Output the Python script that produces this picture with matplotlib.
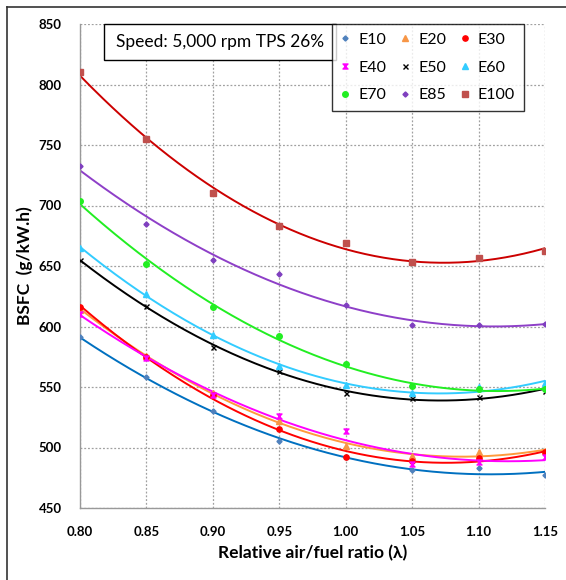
import numpy as np
import matplotlib
matplotlib.use("Agg")
from matplotlib import pyplot as plt
from matplotlib.path import Path
from matplotlib.patches import Rectangle
from matplotlib.lines import Line2D

plt.rcParams['font.family'] = ['Lato', 'DejaVu Sans']

# lambda (relative air/fuel ratio)
lam = [0.80, 0.85, 0.90, 0.95, 1.00, 1.05, 1.10, 1.15]

# BSFC (g/kW.h) per blend
e10 = [591, 558, 530, 505, 492, 481, 483, 477]
e20 = [614, 576, 545, 522, 501, 493, 496, 497]
e30 = [616, 575, 543, 515, 492, 489, 491, 496]
e40 = [610, 574, 543, 526, 514, 486, 488, 492]
e50 = [655, 617, 583, 563, 545, 541, 542, 547]
e60 = [665, 627, 593, 567, 552, 545, 550, 553]
e70 = [704, 652, 616, 592, 569, 551, 548, 548]
e85 = [733, 685, 655, 643, 618, 601, 601, 602]
e100 = [810, 755, 710, 683, 669, 653, 657, 662]

names = ["E10", "E20", "E30", "E40", "E50", "E60", "E70", "E85", "E100"]
series = [e10, e20, e30, e40, e50, e60, e70, e85, e100]

hourglass = Path([(-1, 1), (1, 1), (-1, -1), (1, -1), (-1, 1)],
                 [Path.MOVETO, Path.LINETO, Path.LINETO, Path.LINETO, Path.CLOSEPOLY])

# marker, marker colour, marker size, trendline colour
styles = [
    ("D", "#4F81BD", 2.6, "#0070C0"),
    ("^", "#F79646", 3.8, "#FF9A3C"),
    ("o", "#FF0000", 3.8, "#FF0000"),
    (hourglass, "#FF00FF", 3.6, "#FF00FF"),
    ("x", "#000000", 3.6, "#000000"),
    ("^", "#33CCFF", 3.8, "#33CCFF"),
    ("o", "#22EE22", 4.0, "#22EE22"),
    ("D", "#7F3FBF", 2.6, "#8E3FC8"),
    ("s", "#C0504D", 4.6, "#CC0000"),
]

fig = plt.figure(figsize=(5.66, 5.80), dpi=100)
ax = fig.add_axes([80/566, 1-508/580, 465/566, 484/580])

xs = np.linspace(lam[0], lam[-1], 200)
handles = []
for name, vals, (mk, mc, ms, lc) in zip(names, series, styles):
    # excel style 2nd order polynomial trendline
    p = np.polyfit(lam, vals, 2)
    ax.plot(xs, np.polyval(p, xs), color=lc, lw=1.4, zorder=2)
    if mk == "x":
        h, = ax.plot(lam, vals, ls="none", marker=mk, color=mc, ms=ms, mew=1.0, zorder=3, label=name)
    else:
        h, = ax.plot(lam, vals, ls="none", marker=mk, color=mc, ms=ms, mec=mc, zorder=3, label=name)
    handles.append(h)

ax.set_xlim(0.80, 1.15)
ax.set_ylim(450, 850)
ax.set_xticks(lam)
ax.set_xticklabels(["%.2f" % v for v in lam])
ax.set_yticks(np.arange(450, 851, 50))
ax.grid(True, color="#A0A0A0", ls=(0, (1.5, 1.5)), lw=0.9)
ax.set_axisbelow(True)
for s in ["top", "right"]:
    ax.spines[s].set_visible(False)
for s in ["left", "bottom"]:
    ax.spines[s].set_color("#999999")
    ax.spines[s].set_linewidth(1.0)
ax.tick_params(axis="x", length=0, labelsize=9.5, pad=13)
ax.tick_params(axis="y", length=0, labelsize=9.5, pad=13)
for lab in ax.get_xticklabels() + ax.get_yticklabels():
    lab.set_fontweight("bold")

ax.set_xlabel("Relative air/fuel ratio (λ)", fontsize=12.5, fontweight="bold", labelpad=5)
ax.set_ylabel("BSFC  (g/kW.h)", fontsize=12.5, fontweight="bold", labelpad=4)

# legend filled row by row
order = [0, 3, 6, 1, 4, 7, 2, 5, 8]
leg = ax.legend([handles[i] for i in order], [names[i] for i in order], ncol=3,
                loc="upper right", bbox_to_anchor=((524-80)/465, 1.0), borderaxespad=0,
                fontsize=11.5, frameon=True, fancybox=False, edgecolor="black",
                handlelength=0.6, handletextpad=0.5, columnspacing=0.9,
                labelspacing=0.85, borderpad=0.55, markerscale=1.0)
leg.get_frame().set_linewidth(1.0)
leg.set_zorder(5)

# annotation box
rx0 = (104-80)/465
rw = (336-104)/465
rh = 36/484
ax.add_patch(Rectangle((rx0, 1-rh), rw, rh, transform=ax.transAxes, facecolor="white",
                       edgecolor="black", lw=1.0, zorder=5, clip_on=False))
ax.text(rx0 + rw/2, 1-rh/2, "Speed: 5,000 rpm TPS 26%", transform=ax.transAxes,
        ha="center", va="center", fontsize=12.5, zorder=6)

# outer chart frame
fig.add_artist(Line2D([7/566, 1], [1-7/580, 1-7/580], color="#333333", lw=1.2))
fig.add_artist(Line2D([7/566, 7/566], [0, 1-7/580], color="#333333", lw=1.2))

fig.savefig("out.png", dpi=100)
